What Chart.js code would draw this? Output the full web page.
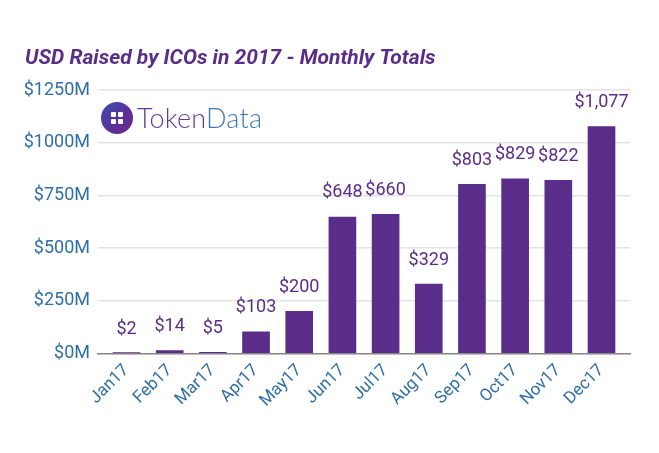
<!DOCTYPE html>
<html>
<head>
<meta charset="utf-8">
<script src="https://cdn.jsdelivr.net/npm/chart.js@4"></script>
<style>
  html, body { margin: 0; padding: 0; background: #fff; }
  #wrap { position: relative; width: 659px; height: 453px; }
  #logo { position: absolute; left: 101px; top: 101px; display: flex; align-items: center; }
  #logo .circ { width: 32px; height: 32px; border-radius: 50%; background: linear-gradient(135deg, #3550b4 0%, #5a2f98 55%, #6d2a8c 100%); position: relative; }
  #logo .sq { position: absolute; width: 5px; height: 5px; background: #fff; border-radius: 1px; }
  #logo .txt { margin-left: 4px; font-family: Lato, "Open Sans", sans-serif; font-weight: 300; font-size: 27px; letter-spacing: 0.2px; }
</style>
</head>
<body>
<div id="wrap">
  <canvas id="c" width="659" height="453"></canvas>
  <div id="logo">
    <div class="circ">
      <div class="sq" style="left:10px;top:10px"></div>
      <div class="sq" style="left:17px;top:10px"></div>
      <div class="sq" style="left:10px;top:17px"></div>
      <div class="sq" style="left:17px;top:17px"></div>
    </div>
    <div class="txt"><span style="color:#6a3a93">Token</span><span style="color:#3d7ab5">Data</span></div>
  </div>
</div>
<script>
const categories = ["Jan17","Feb17","Mar17","Apr17","May17","Jun17","Jul17","Aug17","Sep17","Oct17","Nov17","Dec17"];
const usdRaised = [2, 14, 5, 103, 200, 648, 660, 329, 803, 829, 822, 1077];
const yTicks = [0, 250, 500, 750, 1000, 1250];

const purple = '#5b2d8a';
const blue = '#2f6fa8';

const valueLabels = {
  id: 'valueLabels',
  afterDatasetsDraw(chart) {
    const ctx = chart.ctx;
    const meta = chart.getDatasetMeta(0);
    ctx.save();
    ctx.font = '18px Roboto';
    ctx.fillStyle = purple;
    ctx.textAlign = 'center';
    ctx.textBaseline = 'middle';
    meta.data.forEach((bar, i) => {
      const v = usdRaised[i];
      ctx.fillText('$' + v.toLocaleString('en-US'), bar.x, bar.y - 24);
    });
    ctx.restore();
  }
};

new Chart(document.getElementById('c'), {
  type: 'bar',
  data: {
    datasets: [{
      data: usdRaised.map((v, i) => ({ x: i, y: v })),
      backgroundColor: purple,
      borderWidth: 0,
      barThickness: 27
    }]
  },
  plugins: [valueLabels],
  options: {
    responsive: false,
    animation: false,
    layout: { padding: { left: 25, right: 29, top: 20, bottom: 35 } },
    plugins: {
      legend: { display: false },
      tooltip: { enabled: false },
      title: {
        display: true,
        text: 'USD Raised by ICOs in 2017 - Monthly Totals',
        align: 'start',
        color: purple,
        font: { family: 'Roboto', size: 21, weight: 'bold', style: 'italic' },
        padding: { top: 26, bottom: 19 }
      }
    },
    scales: {
      x: {
        type: 'linear',
        offset: false,
        min: -0.66,
        max: 11.66,
        afterBuildTicks: (scale) => { scale.ticks = categories.map((c, i) => ({ value: i })); },
        ticks: {
          callback: (v) => categories[v],
          color: blue,
          font: { family: 'Roboto', size: 17 },
          minRotation: 45,
          maxRotation: 45,
          autoSkip: false,
          padding: 7
        },
        grid: { display: false, drawTicks: false },
        border: { display: true, color: '#888', width: 1.5 }
      },
      y: {
        min: 0,
        max: 1250,
        afterBuildTicks: (scale) => { scale.ticks = yTicks.map(v => ({ value: v })); },
        afterFit: (scale) => { scale.width = 73; },
        ticks: {
          callback: (v) => '$' + v + 'M',
          color: blue,
          font: { family: 'Roboto', size: 18 },
          padding: 8
        },
        grid: { color: '#e4e4e4', lineWidth: 1.5, drawTicks: false },
        border: { display: false }
      }
    }
  }
});
</script>
</body>
</html>
